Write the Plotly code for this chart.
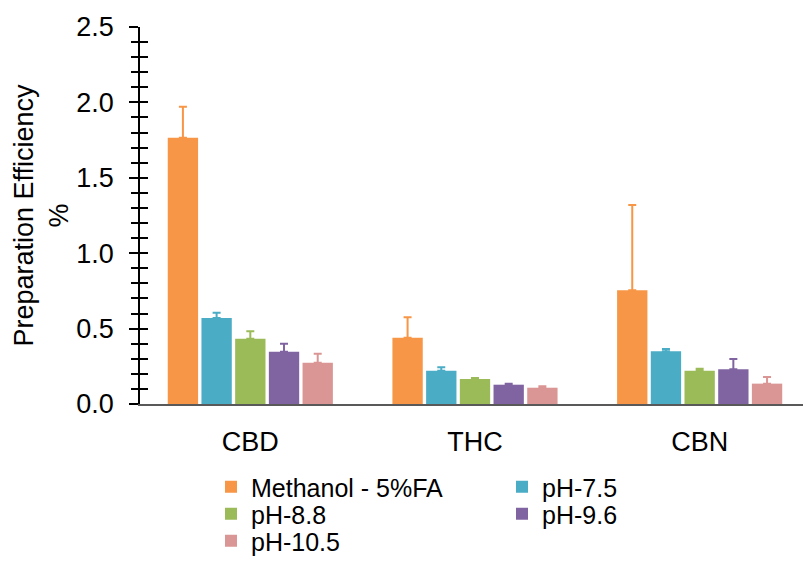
import plotly.graph_objects as go

categories = ["CBD", "THC", "CBN"]
series_names = ["Methanol - 5%FA", "pH-7.5", "pH-8.8", "pH-9.6", "pH-10.5"]
colors = ["#F79646", "#4BACC6", "#9BBB59", "#8064A2", "#DA9694"]

methanol = [1.766, 0.440, 0.754]
ph75 = [0.570, 0.221, 0.349]
ph88 = [0.433, 0.166, 0.221]
ph96 = [0.347, 0.128, 0.230]
ph105 = [0.274, 0.108, 0.135]

err_methanol = [0.205, 0.135, 0.566]
err_ph75 = [0.035, 0.022, 0.016]
err_ph88 = [0.050, 0.007, 0.013]
err_ph96 = [0.053, 0.007, 0.068]
err_ph105 = [0.060, 0.009, 0.044]

values = [methanol, ph75, ph88, ph96, ph105]
errors = [err_methanol, err_ph75, err_ph88, err_ph96, err_ph105]
legend_ids = ["legend", "legend", "legend2", "legend2", "legend3"]

FONT = "Liberation Sans, Arial, sans-serif"

fig = go.Figure()
for name, vals, errs, col, lg in zip(series_names, values, errors, colors, legend_ids):
    fig.add_trace(go.Bar(
        x=categories, y=vals, name=name,
        marker=dict(color=col, line=dict(width=0)),
        error_y=dict(type="data", array=errs, arrayminus=[0] * len(errs),
                     symmetric=False, color=col, thickness=2, width=4),
        legend=lg,
    ))

# empty helper trace so the overlaid tick axis (inner half of crossing ticks) is drawn
fig.add_trace(go.Scatter(x=categories, y=[None] * len(categories), yaxis="y2",
                         mode="lines", showlegend=False, hoverinfo="skip"))

W, H = 803, 562
L, R, T, B = 140, 0, 27, 158

def cy(p):
    return (H - p) / H

def cx(p):
    return p / W

leg_common = dict(orientation="h", xanchor="left", yanchor="middle",
                  xref="container", yref="container",
                  font=dict(family=FONT, size=25, color="black"),
                  entrywidth=246, entrywidthmode="pixels",
                  bgcolor="rgba(0,0,0,0)", borderwidth=0,
                  itemclick=False, itemdoubleclick=False)
lx = cx(211)

fig.update_layout(
    width=W, height=H,
    margin=dict(l=L, r=R, t=T, b=B, pad=0),
    paper_bgcolor="white", plot_bgcolor="white",
    barmode="group", bargap=0.25, bargroupgap=0.1,
    font=dict(family=FONT, size=27, color="black"),
    legend=dict(x=lx, y=cy(487), **leg_common),
    legend2=dict(x=lx, y=cy(514), **leg_common),
    legend3=dict(x=lx, y=cy(541), **leg_common),
    xaxis=dict(
        range=[-0.491, 2.46], showgrid=False, zeroline=False,
        showline=True, linecolor="#595959", linewidth=2,
        ticks="", tickfont=dict(family=FONT, size=27, color="black"),
        ticklabelstandoff=13,
    ),
    yaxis=dict(
        range=[0, 2.5], dtick=0.5, tickformat=".1f",
        showgrid=False, zeroline=False,
        showline=True, linecolor="black", linewidth=1.5,
        ticks="outside", ticklen=9, tickwidth=1.5, tickcolor="black",
        minor=dict(dtick=0.1, ticks="outside", ticklen=7, tickwidth=1.5, tickcolor="black"),
        tickfont=dict(family=FONT, size=27, color="black"),
        ticklabelstandoff=10,
        title=dict(text="Preparation Efficiency<br>%", font=dict(family=FONT, size=27, color="black"),
                   standoff=0),
    ),
    yaxis2=dict(
        range=[0, 2.5], overlaying="y", side="left", anchor="x",
        showgrid=False, zeroline=False, showline=False, showticklabels=False,
        ticks="inside", dtick=0.1, ticklen=8, tickwidth=1.5, tickcolor="black",
    ),
)

fig.write_html("out.html", config={"displayModeBar": False},
               post_script="document.body.style.margin='0';")
